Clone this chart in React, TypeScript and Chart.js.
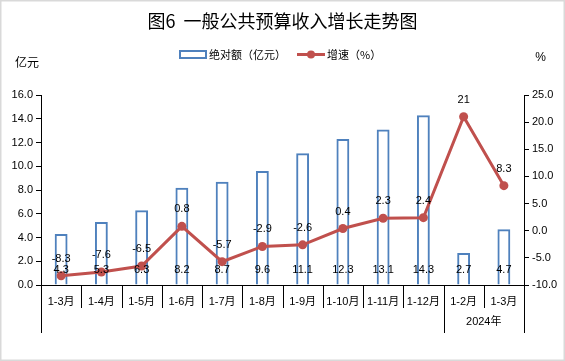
import React, { useEffect, useRef } from "react";
import { Chart, registerables } from "chart.js";

Chart.register(...registerables);

const titleText = "图6  一般公共预算收入增长走势图";
const categories = ["1-3月", "1-4月", "1-5月", "1-6月", "1-7月", "1-8月", "1-9月", "1-10月", "1-11月", "1-12月", "1-2月", "1-3月"];
const amounts = [4.3, 5.3, 6.3, 8.2, 8.7, 9.6, 11.1, 12.3, 13.1, 14.3, 2.7, 4.7];
const growth = [-8.3, -7.6, -6.5, 0.8, -5.7, -2.9, -2.6, 0.4, 2.3, 2.4, 21, 8.3];
const amountName = "绝对额（亿元）";
const growthName = "增速（%）";
const leftUnit = "亿元";
const rightUnit = "%";
const groupLabel = "2024年";
const groupStart = 10;
const leftMin = 0, leftMax = 16, leftStep = 2;
const rightMin = -10, rightMax = 25, rightStep = 5;

const FONT = "'Liberation Sans', Arial, 'Noto Sans CJK SC', sans-serif";
const CJK_FONT = "'Noto Sans CJK SC', 'Liberation Sans', sans-serif";
const BAR_COLOR = "#4F81BD";
const LINE_COLOR = "#C0504D";

const W = 565, H = 361;
const LEFT = 41, RIGHT = 524, TOP = 95, BOTTOM = 285;

// draw text with full-width CJK cells (fullwidth punctuation keeps a full em)
function drawCjkText(ctx: any, text: string, x: number, y: number, size: number) {
  let cx = x;
  for (const ch of Array.from(text)) {
    const code = ch.codePointAt(0) || 0;
    const w = ctx.measureText(ch).width;
    const wide = code >= 0x2e80;
    if (wide) {
      const cell = size;
      let dx = (cell - w) / 2;
      if (ch === "（") dx = cell - w;
      if (ch === "）") dx = 0;
      ctx.fillText(ch, cx + dx, y);
      cx += cell;
    } else {
      ctx.fillText(ch, cx, y);
      cx += w;
    }
  }
}

const decorPlugin = {
  id: "decor",
  beforeDraw(chart: any) {
    const ctx = chart.ctx;
    ctx.save();
    ctx.fillStyle = "#fff";
    ctx.fillRect(0, 0, W, H);
    ctx.strokeStyle = "#D9D9D9";
    ctx.lineWidth = 1.5;
    ctx.strokeRect(0.75, 0.75, W - 1.5, H - 1.5);
    ctx.restore();
  },
  afterDatasetsDraw(chart: any) {
    const ctx = chart.ctx;
    ctx.save();
    ctx.font = `11px ${FONT}`;
    ctx.fillStyle = "#000";
    ctx.textAlign = "center";
    ctx.textBaseline = "middle";
    const barMeta = chart.getDatasetMeta(1);
    const lineMeta = chart.getDatasetMeta(0);
    const area = chart.chartArea;
    barMeta.data.forEach((el: any, i: number) => {
      ctx.fillText(amounts[i].toFixed(1), el.x, area.bottom - 15);
    });
    lineMeta.data.forEach((el: any, i: number) => {
      ctx.fillText(String(growth[i]), el.x, el.y - 17);
    });
    ctx.restore();
  },
  afterDraw(chart: any) {
    const ctx = chart.ctx;
    const area = chart.chartArea;
    const xs = chart.scales.x;
    ctx.save();
    const n = categories.length;
    const bounds: number[] = [];
    for (let i = 0; i <= n; i++) {
      if (i === 0) bounds.push(area.left);
      else if (i === n) bounds.push(area.right);
      else bounds.push((xs.getPixelForTick(i - 1) + xs.getPixelForTick(i)) / 2);
    }
    ctx.strokeStyle = "#000";
    ctx.lineWidth = 1;
    bounds.forEach((bx, i) => {
      const longLine = i === 0 || i === groupStart || i === n;
      const x = Math.round(bx) + 0.5;
      ctx.beginPath();
      ctx.moveTo(x, area.bottom);
      ctx.lineTo(x, longLine ? 333 : 308);
      ctx.stroke();
    });
    ctx.fillStyle = "#000";
    ctx.textAlign = "center";
    ctx.textBaseline = "middle";
    ctx.font = `11px ${FONT}`;
    ctx.fillText(groupLabel, (bounds[groupStart] + bounds[n]) / 2, 322);

    // title
    ctx.font = `18px ${CJK_FONT}`;
    ctx.fillStyle = "#000";
    ctx.fillText(titleText, W / 2, 21);

    // units
    ctx.font = `12px ${CJK_FONT}`;
    ctx.fillText(leftUnit, 27, 62);
    ctx.font = `12px ${FONT}`;
    ctx.fillText(rightUnit, 540.5, 58);

    // legend
    ctx.textAlign = "left";
    ctx.font = `11px ${CJK_FONT}`;
    ctx.strokeStyle = BAR_COLOR;
    ctx.lineWidth = 2;
    ctx.fillStyle = "#fff";
    ctx.fillRect(180, 51, 26, 7);
    ctx.strokeRect(180, 51, 26, 7);
    ctx.fillStyle = "#000";
    drawCjkText(ctx, amountName, 209, 54.5, 11);
    ctx.strokeStyle = LINE_COLOR;
    ctx.lineWidth = 3;
    ctx.beginPath();
    ctx.moveTo(297, 54.5);
    ctx.lineTo(325, 54.5);
    ctx.stroke();
    ctx.fillStyle = LINE_COLOR;
    ctx.beginPath();
    ctx.arc(311, 54.5, 4, 0, Math.PI * 2);
    ctx.fill();
    ctx.fillStyle = "#000";
    drawCjkText(ctx, growthName, 327, 54.5, 11);
    ctx.restore();
  },
};

export default function App() {
  const ref = useRef<HTMLCanvasElement | null>(null);
  useEffect(() => {
    document.body.style.margin = "0";
    const canvas = ref.current;
    if (!canvas) return;
    const chart = new Chart(canvas, {
      data: {
        labels: categories,
        datasets: [
          {
            type: "line",
            label: growthName,
            data: growth,
            yAxisID: "y1",
            borderColor: LINE_COLOR,
            backgroundColor: LINE_COLOR,
            borderWidth: 3,
            pointRadius: 4.5,
            pointBackgroundColor: LINE_COLOR,
            pointBorderColor: LINE_COLOR,
            pointBorderWidth: 0,
            tension: 0,
            order: 0,
          },
          {
            type: "bar",
            label: amountName,
            data: amounts,
            yAxisID: "y",
            backgroundColor: "rgba(255,255,255,0)",
            borderColor: BAR_COLOR,
            borderWidth: 2,
            barPercentage: 0.32,
            categoryPercentage: 1,
            order: 1,
          },
        ],
      } as any,
      options: {
        responsive: false,
        animation: false,
        devicePixelRatio: 1,
        layout: { padding: { top: TOP, left: 0, right: 0, bottom: 0 } },
        plugins: {
          legend: { display: false },
          title: { display: false },
          tooltip: { enabled: false },
        },
        scales: {
          x: {
            offset: true,
            grid: { display: false, drawTicks: false },
            border: { display: true, color: "#000", width: 1 },
            ticks: {
              color: "#000",
              font: { size: 11, family: FONT },
              padding: 10,
              maxRotation: 0,
              autoSkip: false,
            },
            afterFit(scale: any) {
              scale.height = H - BOTTOM;
            },
          },
          y: {
            position: "left",
            min: leftMin,
            max: leftMax,
            grid: { drawOnChartArea: false, drawTicks: true, tickLength: 5, color: "#000" },
            border: { display: true, color: "#000", width: 1 },
            ticks: {
              stepSize: leftStep,
              color: "#000",
              font: { size: 11, family: FONT },
              padding: 3,
              callback: (v: any) => Number(v).toFixed(1),
            },
            afterFit(scale: any) {
              scale.width = LEFT;
            },
          },
          y1: {
            position: "right",
            min: rightMin,
            max: rightMax,
            grid: { drawOnChartArea: false, drawTicks: true, tickLength: 5, color: "#000" },
            border: { display: true, color: "#000", width: 1 },
            ticks: {
              stepSize: rightStep,
              color: "#000",
              font: { size: 11, family: FONT },
              padding: 3,
              callback: (v: any) => Number(v).toFixed(1),
            },
            afterFit(scale: any) {
              scale.width = W - RIGHT;
            },
          },
        },
      } as any,
      plugins: [decorPlugin],
    });
    return () => chart.destroy();
  }, []);
  return (
    <div style={{ position: "absolute", left: 0, top: 0, width: W, height: H }}>
      <canvas ref={ref} width={W} height={H} style={{ display: "block", width: W, height: H }} />
    </div>
  );
}
